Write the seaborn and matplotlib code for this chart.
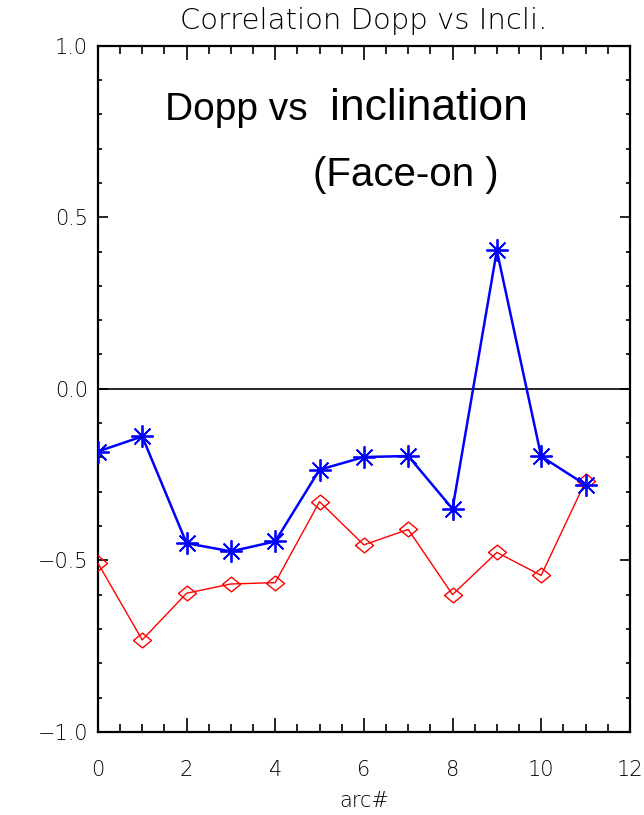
import matplotlib
matplotlib.use("Agg")
import matplotlib.pyplot as plt
import seaborn as sns
import pandas as pd
from matplotlib.ticker import MultipleLocator

arc = [0, 1, 2, 3, 4, 5, 6, 7, 8, 9, 10, 11]
blue_vals = [-0.183, -0.139, -0.45, -0.474, -0.445, -0.236, -0.199, -0.196, -0.35, 0.403, -0.197, -0.28]
red_vals = [-0.508, -0.732, -0.596, -0.569, -0.565, -0.329, -0.455, -0.41, -0.60, -0.477, -0.544, -0.27]

title = "Correlation Dopp vs Incli."
xlabel = "arc#"
note1a = "Dopp vs"
note1b = "inclination"
note2 = "(Face-on )"

sns.set_theme(style="ticks")
plt.rcParams['font.family'] = ['DejaVu Sans']

df_b = pd.DataFrame({"arc": arc, "r": blue_vals})
df_r = pd.DataFrame({"arc": arc, "r": red_vals})

fig = plt.figure(figsize=(6.44, 8.15), dpi=100)
ax = fig.add_axes([0.152, 0.102, 0.826, 0.842])

diamond = [(-1, 0), (0, 0.82), (1, 0), (0, -0.82), (-1, 0)]

ax.axhline(0, color="black", lw=1.2, zorder=1)
sns.lineplot(data=df_r, x="arc", y="r", ax=ax, color="red", lw=1.0,
             marker=diamond, markersize=13, markerfacecolor="none",
             markeredgecolor="red", markeredgewidth=1.0, zorder=3)
sns.lineplot(data=df_b, x="arc", y="r", ax=ax, color="blue", lw=1.8,
             marker=(8, 2, 0), markersize=16, markeredgecolor="blue",
             markeredgewidth=1.3, zorder=4)

ax.set_xlim(0, 12)
ax.set_ylim(-1.0, 1.0)
ax.xaxis.set_major_locator(MultipleLocator(2))
ax.xaxis.set_minor_locator(MultipleLocator(0.5))
ax.yaxis.set_minor_locator(MultipleLocator(0.1))
ax.set_yticks([-1.0, -0.5, 0.0, 0.5, 1.0])
ax.set_yticklabels(["\u22121.0", "\u22120.5", "0.0", "0.5", "1.0"])
ax.tick_params(which="both", direction="in", top=True, right=True, color="black")
ax.tick_params(axis="x", which="major", length=10, width=1.2, labelsize=15, pad=20, labelcolor="black")
ax.tick_params(axis="x", which="minor", length=6, width=1.2)
ax.tick_params(axis="y", which="major", length=7, width=1.2, labelsize=15, pad=7, labelcolor="black")
ax.tick_params(axis="y", which="minor", length=3, width=1.2)
for lab in ax.get_xticklabels() + ax.get_yticklabels():
    lab.set_fontweight("light")
for s in ax.spines.values():
    s.set_color("black")
    s.set_linewidth(1.6)

ax.set_xlabel(xlabel, fontsize=15, color="black", labelpad=8, fontweight="light")
ax.set_ylabel("")
ax.set_title(title, fontsize=21, color="black", pad=12, fontweight="light")

ax.text(0.126, 0.892, note1a, transform=ax.transAxes, ha="left", va="baseline",
        fontsize=28, family="Liberation Sans", color="black")
ax.text(0.436, 0.892, note1b, transform=ax.transAxes, ha="left", va="baseline",
        fontsize=32, family="Liberation Sans", color="black")
ax.text(0.404, 0.796, note2, transform=ax.transAxes, ha="left", va="baseline",
        fontsize=29, family="Liberation Sans", color="black")

fig.savefig("out.png", dpi=100)
